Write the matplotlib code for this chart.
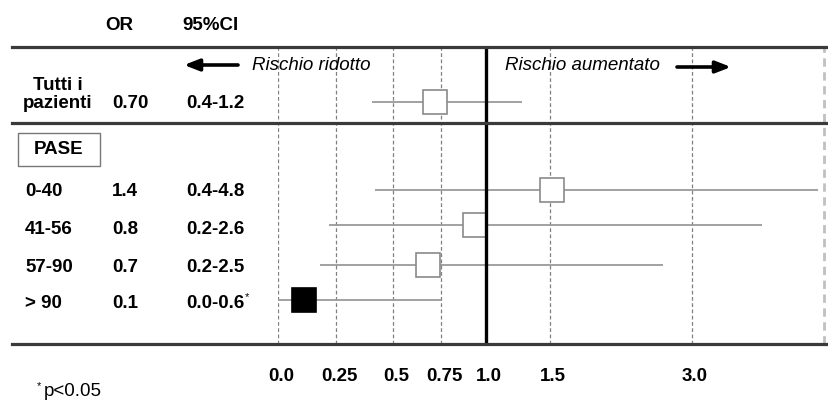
import numpy as np
import matplotlib
matplotlib.use("Agg")
import matplotlib.pyplot as plt
import matplotlib.transforms as mtransforms
from matplotlib.lines import Line2D
from matplotlib.patches import Rectangle, FancyArrowPatch

# ---------------- data ----------------
groups = ["Tutti i\npazienti", "0-40", "41-56", "57-90", "> 90"]
or_text = ["0.70", "1.4", "0.8", "0.7", "0.1"]
ci_text = ["0.4-1.2", "0.4-4.8", "0.2-2.6", "0.2-2.5", "0.0-0.6"]
ci_star = [False, False, False, False, True]
# values as drawn on the chart
or_plot = [0.72, 1.52, 0.94, 0.68, 0.11]
ci_lo_plot = [0.41, 0.42, 0.22, 0.18, 0.0]
ci_hi_plot = [1.28, 4.91, 4.06, 2.69, 0.75]
significant = [False, False, False, False, True]
tick_values = [0.0, 0.25, 0.5, 0.75, 1.0, 1.5, 3.0]
tick_labels = ["0.0", "0.25", "0.5", "0.75", "1.0", "1.5", "3.0"]
x_max = 5.0

# ---------------- layout ----------------
W, H = 829, 400
# piecewise axis (value knots -> pixel positions)
knot_v = [0.0, 0.25, 0.5, 0.75, 1.0, 1.5, 3.0, 5.0]
knot_p = [278, 336, 393, 441, 486, 550, 692, 824]
row_y = [102, 190, 225, 265, 300]
text_dy = [2, 2, 5, 2, 3]
top_y, mid_y, bot_y = 47, 123, 344

FONT = "Liberation Sans"
FS = 13.5


def fx(x):
    return x / W


def fy(y):
    return 1 - y / H


def fwd(v):
    return np.interp(v, knot_v, knot_p)


def inv(p):
    return np.interp(p, knot_p, knot_v)


fig = plt.figure(figsize=(W / 100, H / 100), dpi=100)
ax = fig.add_axes([fx(knot_p[0]), fy(bot_y), (knot_p[-1] - knot_p[0]) / W, (bot_y - top_y) / H])
ax.set_xscale("function", functions=(fwd, inv))
ax.set_xlim(0, x_max)
ax.set_ylim(bot_y, top_y)
for s in ax.spines.values():
    s.set_visible(False)
ax.set_yticks([])
ax.set_xticks(tick_values)
ax.set_xticklabels(tick_labels, fontfamily=FONT, fontweight="bold", fontsize=FS)
ax.tick_params(axis="x", length=0, pad=17)
shift = mtransforms.ScaledTranslation(3 / 100, 0, fig.dpi_scale_trans)
for lab in ax.get_xticklabels():
    lab.set_transform(lab.get_transform() + shift)

# dashed reference lines
for v in tick_values:
    if v != 1.0:
        ax.axvline(v, color="#808080", lw=0.9, ls=(0, (3, 2)), zorder=1)
ax.axvline(x_max, color="#c0c0c0", lw=2, ls=(0, (3, 2)), zorder=1, clip_on=False)
ax.axvline(1.0, color="black", lw=2.4, zorder=4)

# CI lines and boxes
for y, o, lo, hi, sig in zip(row_y, or_plot, ci_lo_plot, ci_hi_plot, significant):
    ax.plot([lo, hi], [y, y], color="#9a9a9a", lw=1.3, zorder=2, solid_capstyle="butt")
    ax.plot([o], [y], marker="s", ms=17.5,
            mfc="black" if sig else "white",
            mec="black" if sig else "#8a8a8a", mew=1.2, zorder=3, ls="none")

# horizontal rules
for yy in (top_y, mid_y, bot_y):
    fig.add_artist(Line2D([fx(12), fx(829)], [fy(yy), fy(yy)], color="#3a3a3a", lw=2.3,
                          transform=fig.transFigure, zorder=5))

# header
fig.text(fx(105), fy(25), "OR", fontfamily=FONT, fontweight="bold", fontsize=FS, va="center")
fig.text(fx(182), fy(25), "95%CI", fontfamily=FONT, fontweight="bold", fontsize=FS, va="center")

# rows text
star_rows = []
for i, (g, o, c, star) in enumerate(zip(groups, or_text, ci_text, ci_star)):
    ty = row_y[i] + text_dy[i]
    if i == 0:
        fig.text(fx(58), fy(85), "Tutti i", fontfamily=FONT, fontweight="bold", fontsize=FS,
                 ha="center", va="center")
        fig.text(fx(58), fy(103), "pazienti", fontfamily=FONT, fontweight="bold", fontsize=FS,
                 ha="center", va="center")
    else:
        fig.text(fx(25), fy(ty), g, fontfamily=FONT, fontweight="bold", fontsize=FS, va="center")
    fig.text(fx(112), fy(ty), o, fontfamily=FONT, fontweight="bold", fontsize=FS, va="center")
    t = fig.text(fx(186), fy(ty), c, fontfamily=FONT, fontweight="bold", fontsize=FS, va="center")
    if star:
        star_rows.append((t, ty))

fig.canvas.draw()
renderer = fig.canvas.get_renderer()
for t, ty in star_rows:
    bb = t.get_window_extent(renderer)
    fig.text((bb.x1 + 1) / W, fy(ty - 6), "*", fontfamily=FONT, fontsize=8, va="center")

# PASE box
fig.add_artist(Rectangle((fx(18), fy(166)), (100 - 18) / W, (166 - 133) / H, fill=False,
                         ec="#777777", lw=1.0, transform=fig.transFigure))
fig.text(fx(59), fy(150), "PASE", fontfamily=FONT, fontweight="bold", fontsize=FS,
         ha="center", va="center")

# risk arrows
fig.text(fx(252), fy(66), "Rischio ridotto", fontfamily=FONT, fontstyle="italic", fontsize=FS,
         va="center")
fig.text(fx(505), fy(66), "Rischio aumentato", fontfamily=FONT, fontstyle="italic", fontsize=FS,
         va="center")
arrow_kw = dict(arrowstyle="-|>,head_length=0.9,head_width=0.35", lw=2.6, color="black",
                shrinkA=0, shrinkB=0)
fig.add_artist(FancyArrowPatch((fx(238), fy(65)), (fx(184), fy(65)),
                               transform=fig.transFigure, mutation_scale=10, **arrow_kw))
fig.add_artist(FancyArrowPatch((fx(677), fy(67)), (fx(731), fy(67)),
                               transform=fig.transFigure, mutation_scale=10, **arrow_kw))

# footnote
fig.text(fx(37), fy(386), "*", fontfamily=FONT, fontsize=8, va="center")
fig.text(fx(44), fy(391), "p<0.05", fontfamily=FONT, fontsize=FS, va="center")

fig.savefig("out.png", dpi=100)
